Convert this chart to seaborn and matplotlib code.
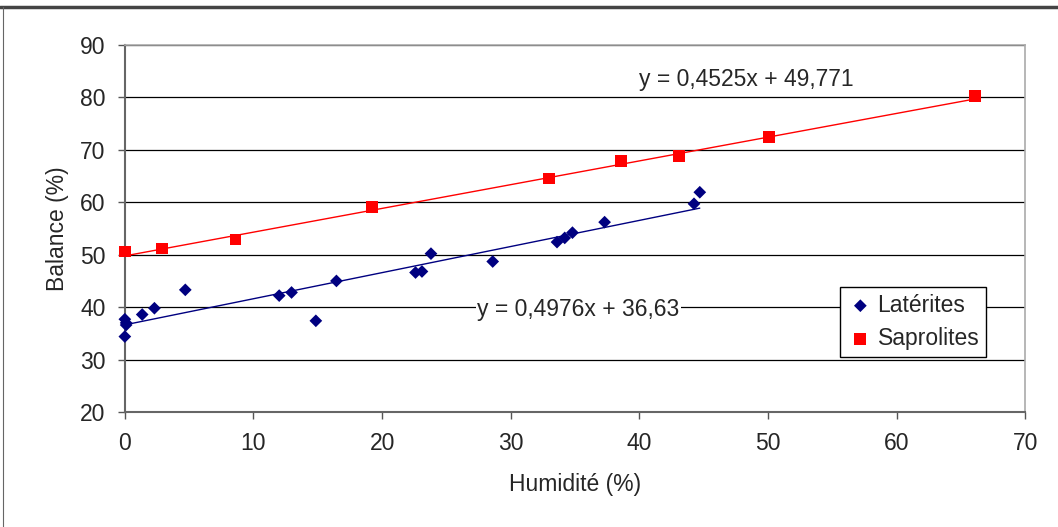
import numpy as np
import pandas as pd
import matplotlib.pyplot as plt
from matplotlib.lines import Line2D
import seaborn as sns

# Latérites (humidité %, balance %)
lat_x = [0.0, 0.1, 0.1, 0.0, 1.35, 2.3, 4.7, 12.0, 12.96, 14.85, 16.45,
         22.6, 23.1, 23.8, 28.6, 33.6, 34.2, 34.8, 37.3, 44.25, 44.7]
lat_y = [37.7, 37.0, 36.6, 34.4, 38.6, 39.8, 43.3, 42.2, 42.8, 37.4, 45.0,
         46.6, 46.8, 50.2, 48.7, 52.4, 53.2, 54.2, 56.2, 59.7, 61.9]

# Saprolites
sap_x = [0.0, 2.9, 8.6, 19.2, 33.0, 38.6, 43.1, 50.1, 66.1]
sap_y = [50.6, 51.2, 52.9, 59.1, 64.5, 67.8, 68.8, 72.5, 80.3]

# tendances linéaires (Excel)
lat_fit = (0.4976, 36.63)
sap_fit = (0.4525, 49.771)
lat_eq = "y = 0,4976x + 36,63"
sap_eq = "y = 0,4525x + 49,771"

sns.set_style("white")
plt.rcParams['font.family'] = ['Liberation Sans', 'DejaVu Sans']

fig = plt.figure(figsize=(10.58, 5.27), dpi=100)
ax = fig.add_axes([0.118, 0.218, 0.851, 0.697])

lat = pd.DataFrame({"x": lat_x, "y": lat_y})
sap = pd.DataFrame({"x": sap_x, "y": sap_y})

# droites de tendance
xl = np.array([min(lat_x), max(lat_x)])
ax.plot(xl, lat_fit[0] * xl + lat_fit[1], color="#000080", lw=1, zorder=3)
xs = np.array([min(sap_x), max(sap_x)])
ax.plot(xs, sap_fit[0] * xs + sap_fit[1], color="#ff0000", lw=1, zorder=3)

sns.scatterplot(data=lat, x="x", y="y", ax=ax, marker="D", s=42, color="#000080",
                edgecolor="none", label="Latérites", zorder=4, clip_on=False)
sns.scatterplot(data=sap, x="x", y="y", ax=ax, marker="s", s=72, color="#ff0000",
                edgecolor="none", label="Saprolites", zorder=4, clip_on=False)

ax.set_xlim(0, 70)
ax.set_ylim(20, 90)
ax.set_xticks(range(0, 71, 10))
ax.set_yticks(range(20, 91, 10))
ax.yaxis.grid(True, color="black", lw=0.9)
ax.set_axisbelow(True)
ax.tick_params(axis="both", labelsize=16.5, direction="out", length=5, width=1,
               color="#555555", left=True, bottom=True, pad=9)
for s in ["left", "bottom"]:
    ax.spines[s].set_color("#666666")
    ax.spines[s].set_linewidth(1.5)
for s in ["top", "right"]:
    ax.spines[s].set_color("#aaaaaa")
    ax.spines[s].set_linewidth(1.2)

ax.set_xlabel("Humidité (%)", fontsize=16.5, labelpad=13)
ax.set_ylabel("Balance (%)", fontsize=16.5, labelpad=8)

ax.text(40.0, 83.3, sap_eq, fontsize=16.5, va="center", ha="left",
        bbox=dict(facecolor="white", edgecolor="none", pad=1), zorder=5)
ax.text(27.4, 39.6, lat_eq, fontsize=16.5, va="center", ha="left",
        bbox=dict(facecolor="white", edgecolor="none", pad=1), zorder=5)

leg = ax.legend(loc="upper left", bbox_to_anchor=(0.794, 0.341), fontsize=16.5,
                frameon=True, fancybox=False, framealpha=1, edgecolor="black",
                handletextpad=0.15, borderpad=0.3, labelspacing=0.45,
                handlelength=1.2, borderaxespad=0)
leg.get_frame().set_linewidth(1)
leg.set_zorder(6)

# cadre de la figure
fig.add_artist(Line2D([0, 1], [0.987, 0.987], transform=fig.transFigure,
                      color="#444444", lw=2.5))
fig.add_artist(Line2D([0.003, 0.003], [0, 0.987], transform=fig.transFigure,
                      color="#666666", lw=0.8))

fig.savefig("out.png", dpi=100)
